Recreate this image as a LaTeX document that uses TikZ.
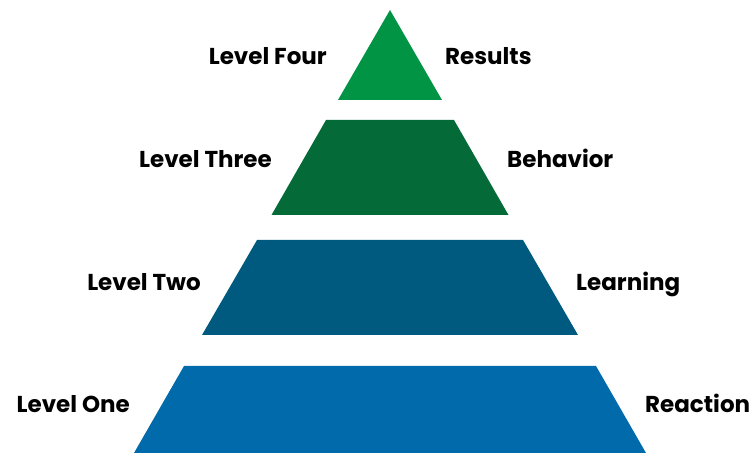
\documentclass[tikz,border=0pt]{standalone}
\usepackage{fontspec}
\setmainfont{Poppins}
\definecolor{lvlfour}{RGB}{0,148,68}
\definecolor{lvlthree}{RGB}{4,106,56}
\definecolor{lvltwo}{RGB}{0,90,128}
\definecolor{lvlone}{RGB}{0,106,171}
\tikzset{
  lbl/.style={inner sep=0pt, font=\fontsize{23}{27}\selectfont\bfseries, text=black},
  leftlbl/.style={lbl, anchor=base east},
  rightlbl/.style={lbl, anchor=base west}
}
\begin{document}
\begin{tikzpicture}[x=1pt,y=-1pt]
\useasboundingbox (0,0) rectangle (753,454);
\fill[lvlfour] (390,10) -- (442,100) -- (338,100) -- cycle;
\fill[lvlthree] (326,120) -- (454,120) -- (508.5,215) -- (271.5,215) -- cycle;
\fill[lvltwo] (257,240) -- (523,240) -- (578,335) -- (202,335) -- cycle;
\fill[lvlone] (184,366) -- (596,366) -- (646,453) -- (134,453) -- cycle;
\node[leftlbl] (l4) at (327,65) {Level Four};
\node[rightlbl] (r4) at (445,65) {Results};
\node[leftlbl] (l3) at (272,168) {Level Three};
\node[rightlbl] (r3) at (507,168) {Behavior};
\node[leftlbl] (l2) at (201,291) {Level Two};
\node[rightlbl] (r2) at (576,291) {Learning};
\node[leftlbl] (l1) at (130,413) {Level One};
\node[rightlbl] (r1) at (645,413) {Reaction};
\end{tikzpicture}
\end{document}
